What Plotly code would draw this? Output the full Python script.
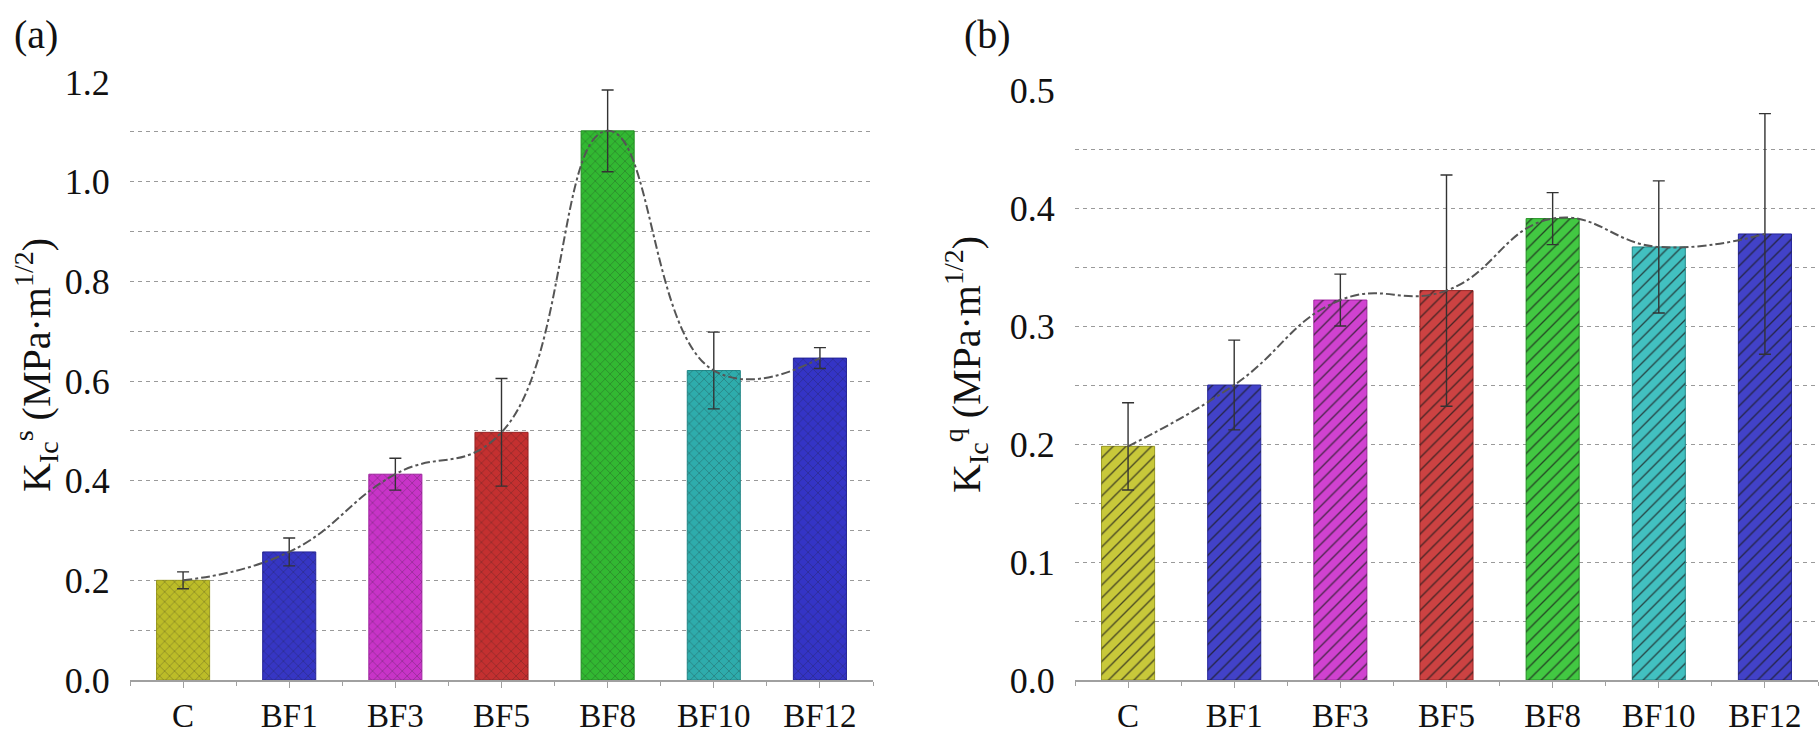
import plotly.graph_objects as go

categories = ["C", "BF1", "BF3", "BF5", "BF8", "BF10", "BF12"]

# Panel (a): K_Ic^s
ks_values = [0.200, 0.257, 0.413, 0.497, 1.102, 0.621, 0.646]
ks_errors = [0.017, 0.028, 0.032, 0.108, 0.082, 0.077, 0.021]

# Panel (b): K_Ic^q
kq_values = [0.198, 0.250, 0.322, 0.330, 0.391, 0.367, 0.378]
kq_errors = [0.037, 0.038, 0.022, 0.098, 0.022, 0.056, 0.102]

colors_a = ["#bcbc28", "#3636c4", "#c834c8", "#c43030", "#32b832", "#2eacac", "#3434c6"]
colors_b = ["#c8c83a", "#4242c8", "#d042d0", "#cc4242", "#42c842", "#42c0c0", "#4242c8"]
line_a = ["#9a9a20", "#26269a", "#a026a0", "#9a2424", "#249024", "#228888", "#24249a"]

W, H = 1820, 738
FONT = "Liberation Serif"
xs = list(range(len(categories)))

fig = go.Figure()

def add_panel(values, errors, colors, shape, psize, psol, fgop, xa, ya):
    fig.add_trace(go.Bar(
        x=xs, y=values, width=0.5,
        marker=dict(color=colors, line=dict(color=line_a, width=1)),
        xaxis=xa, yaxis=ya, showlegend=False, hoverinfo="skip"))
    fig.add_trace(go.Bar(
        x=xs, y=values, width=0.5,
        marker=dict(color="rgba(0,0,0,0)", line=dict(width=0),
                    pattern=dict(shape=shape, fillmode="replace", fgcolor="#1a1a1a",
                                 bgcolor="rgba(0,0,0,0)", fgopacity=fgop,
                                 size=psize, solidity=psol)),
        error_y=dict(type="data", array=errors, color="#333333", thickness=1.4, width=6),
        xaxis=xa, yaxis=ya, showlegend=False))
    fig.add_trace(go.Scatter(
        x=xs, y=values, mode="lines",
        line=dict(color="#555555", width=2, dash="dashdot", shape="spline", smoothing=1.3),
        xaxis=xa, yaxis=ya, showlegend=False))

add_panel(ks_values, ks_errors, colors_a, "x", 7, 0.22, 0.3, "x", "y")
add_panel(kq_values, kq_errors, colors_b, "/", 9, 0.15, 0.75, "x2", "y2")

ydom_a = [(H - 680) / H, (H - 82) / H]
ydom_b = [(H - 680) / H, (H - 90) / H]
grid = dict(showgrid=True, gridcolor="#9a9a9a", gridwidth=1.2, griddash="4px,4px")

def xaxis_cfg(dom, anchor):
    return dict(domain=dom, anchor=anchor, range=[-0.5, 6.5], tickmode="array",
                tickvals=xs, ticktext=categories, showgrid=False, zeroline=False,
                showline=True, linecolor="#a0a0a0", linewidth=1.5,
                ticks="outside", ticklen=6, tickcolor="#a0a0a0", tickwidth=1.2,
                tickfont=dict(family=FONT, size=33, color="#111"),
                minor=dict(tickmode="linear", tick0=0.5, dtick=1, ticks="outside",
                           ticklen=4, tickcolor="#a0a0a0", showgrid=False),
                automargin=False, fixedrange=True)

def yaxis_cfg(dom, anchor, rng, dt, mdt):
    d = dict(domain=dom, anchor=anchor, range=rng, tickmode="linear", tick0=0, dtick=dt,
             tickformat=".1f", zeroline=False, showline=False,
             ticks="outside", ticklen=12, tickcolor="rgba(0,0,0,0)",
             tickfont=dict(family=FONT, size=36, color="#111"),
             minor=dict(tickmode="linear", tick0=0, dtick=mdt, ticks="", **grid),
             automargin=False, fixedrange=True)
    d.update(grid)
    return d

fig.update_layout(
    width=W, height=H,
    margin=dict(l=0, r=0, t=0, b=0),
    paper_bgcolor="white", plot_bgcolor="white",
    barmode="overlay",
    xaxis=xaxis_cfg([130 / W, 873 / W], "y"),
    yaxis=yaxis_cfg(ydom_a, "x", [0, 1.2], 0.2, 0.1),
    xaxis2=xaxis_cfg([1075 / W, 1818 / W], "y2"),
    yaxis2=yaxis_cfg(ydom_b, "x2", [0, 0.5], 0.1, 0.05),
    annotations=[
        dict(text="(a)", x=12 / W, y=1 - 10 / H, xref="paper", yref="paper",
             xanchor="left", yanchor="top", showarrow=False,
             font=dict(family=FONT, size=40, color="#111")),
        dict(text="(b)", x=962 / W, y=1 - 10 / H, xref="paper", yref="paper",
             xanchor="left", yanchor="top", showarrow=False,
             font=dict(family=FONT, size=40, color="#111")),
        dict(text="K<sub>Ic</sub><sup>s</sup> (MPa·m<sup>1/2</sup>)", textangle=-90,
             x=36 / W, y=1 - 365 / H, xref="paper", yref="paper",
             xanchor="center", yanchor="middle", showarrow=False,
             font=dict(family=FONT, size=40, color="#111")),
        dict(text="K<sub>Ic</sub><sup>q</sup> (MPa·m<sup>1/2</sup>)", textangle=-90,
             x=966 / W, y=1 - 365 / H, xref="paper", yref="paper",
             xanchor="center", yanchor="middle", showarrow=False,
             font=dict(family=FONT, size=40, color="#111")),
    ],
)

fig.write_html("out.html")
